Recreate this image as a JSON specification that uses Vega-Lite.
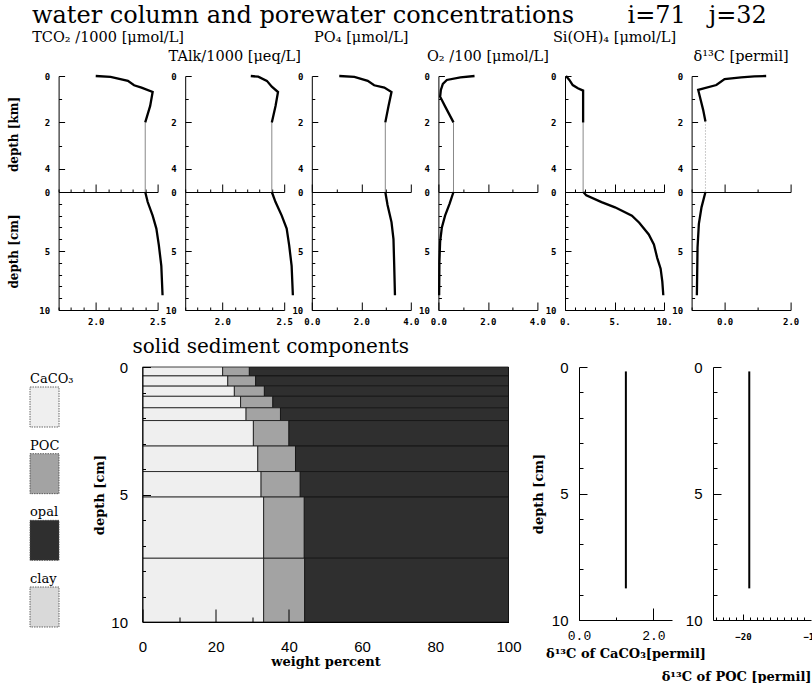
{
"$schema": "https://vega.github.io/schema/vega-lite/v6.json",
"background": "white",
"padding": {"left": 7, "top": 3, "right": 0, "bottom": 0},
"config": {
 "view": {"stroke": null},
 "font": "DejaVu Serif",
 "axis": {"domainColor": "#000", "tickColor": "#000", "labelColor": "#000", "titleColor": "#000", "grid": false, "labelFont": "DejaVu Sans Mono", "labelFontWeight": "bold", "labelFontSize": 9, "titleFont": "DejaVu Serif", "titleFontWeight": "bold", "titleFontSize": 12, "labelFlush": false, "labelOverlap": false, "domainWidth": 1, "tickWidth": 1, "labelAngle": 0},
 "title": {"font": "DejaVu Serif", "fontWeight": "normal", "color": "#000", "fontSize": 14.5, "frame": "group"}
},
"datasets": {
 "prof": [
  {"v":"TCO2","z":"km","s":"a","d":0,"x":2.0},{"v":"TCO2","z":"km","s":"a","d":0.04,"x":2.12},{"v":"TCO2","z":"km","s":"a","d":0.21,"x":2.26},{"v":"TCO2","z":"km","s":"a","d":0.4,"x":2.31},{"v":"TCO2","z":"km","s":"a","d":0.5,"x":2.37},{"v":"TCO2","z":"km","s":"a","d":0.69,"x":2.46},{"v":"TCO2","z":"km","s":"a","d":1.29,"x":2.44},{"v":"TCO2","z":"km","s":"a","d":2.0,"x":2.40},
  {"v":"TCO2","z":"km","s":"b","d":2.0,"x":2.40},{"v":"TCO2","z":"km","s":"b","d":5,"x":2.40},
  {"v":"TCO2","z":"cm","s":"a","d":0,"x":2.40},{"v":"TCO2","z":"cm","s":"a","d":0.85,"x":2.42},{"v":"TCO2","z":"cm","s":"a","d":2,"x":2.46},{"v":"TCO2","z":"cm","s":"a","d":3.1,"x":2.49},{"v":"TCO2","z":"cm","s":"a","d":4.5,"x":2.51},{"v":"TCO2","z":"cm","s":"a","d":6.25,"x":2.53},{"v":"TCO2","z":"cm","s":"a","d":8.75,"x":2.54},
  {"v":"TAlk","z":"km","s":"a","d":0,"x":2.23},{"v":"TAlk","z":"km","s":"a","d":0.03,"x":2.29},{"v":"TAlk","z":"km","s":"a","d":0.21,"x":2.36},{"v":"TAlk","z":"km","s":"a","d":0.46,"x":2.40},{"v":"TAlk","z":"km","s":"a","d":0.69,"x":2.45},{"v":"TAlk","z":"km","s":"a","d":1.29,"x":2.43},{"v":"TAlk","z":"km","s":"a","d":2.0,"x":2.40},
  {"v":"TAlk","z":"km","s":"b","d":2.0,"x":2.40},{"v":"TAlk","z":"km","s":"b","d":5,"x":2.40},
  {"v":"TAlk","z":"cm","s":"a","d":0,"x":2.40},{"v":"TAlk","z":"cm","s":"a","d":0.85,"x":2.43},{"v":"TAlk","z":"cm","s":"a","d":2,"x":2.48},{"v":"TAlk","z":"cm","s":"a","d":3.1,"x":2.52},{"v":"TAlk","z":"cm","s":"a","d":4.5,"x":2.54},{"v":"TAlk","z":"cm","s":"a","d":6.25,"x":2.56},{"v":"TAlk","z":"cm","s":"a","d":8.75,"x":2.57},
  {"v":"PO4","z":"km","s":"a","d":0,"x":1.11},{"v":"PO4","z":"km","s":"a","d":0.04,"x":1.72},{"v":"PO4","z":"km","s":"a","d":0.21,"x":2.26},{"v":"PO4","z":"km","s":"a","d":0.4,"x":2.52},{"v":"PO4","z":"km","s":"a","d":0.5,"x":2.93},{"v":"PO4","z":"km","s":"a","d":0.69,"x":3.22},{"v":"PO4","z":"km","s":"a","d":1.29,"x":3.10},{"v":"PO4","z":"km","s":"a","d":2.0,"x":2.97},
  {"v":"PO4","z":"km","s":"b","d":2.0,"x":2.97},{"v":"PO4","z":"km","s":"b","d":5,"x":2.97},
  {"v":"PO4","z":"cm","s":"a","d":0,"x":2.97},{"v":"PO4","z":"cm","s":"a","d":1.1,"x":3.06},{"v":"PO4","z":"cm","s":"a","d":2.55,"x":3.22},{"v":"PO4","z":"cm","s":"a","d":4,"x":3.30},{"v":"PO4","z":"cm","s":"a","d":6.25,"x":3.33},{"v":"PO4","z":"cm","s":"a","d":8.75,"x":3.36},
  {"v":"O2","z":"km","s":"a","d":0,"x":1.46},{"v":"O2","z":"km","s":"a","d":0.06,"x":0.89},{"v":"O2","z":"km","s":"a","d":0.17,"x":0.34},{"v":"O2","z":"km","s":"a","d":0.34,"x":0.18},{"v":"O2","z":"km","s":"a","d":0.6,"x":0.10},{"v":"O2","z":"km","s":"a","d":0.89,"x":0.07},{"v":"O2","z":"km","s":"a","d":1.31,"x":0.27},{"v":"O2","z":"km","s":"a","d":2.0,"x":0.61},
  {"v":"O2","z":"km","s":"b","d":2.0,"x":0.61},{"v":"O2","z":"km","s":"b","d":5,"x":0.61},
  {"v":"O2","z":"cm","s":"a","d":0,"x":0.61},{"v":"O2","z":"cm","s":"a","d":1,"x":0.45},{"v":"O2","z":"cm","s":"a","d":2,"x":0.27},{"v":"O2","z":"cm","s":"a","d":3,"x":0.14},{"v":"O2","z":"cm","s":"a","d":4.2,"x":0.07},{"v":"O2","z":"cm","s":"a","d":5.9,"x":0.04},{"v":"O2","z":"cm","s":"a","d":8.75,"x":0.03},
  {"v":"Si","z":"km","s":"a","d":0,"x":0.1},{"v":"Si","z":"km","s":"a","d":0.17,"x":0.44},{"v":"Si","z":"km","s":"a","d":0.39,"x":0.78},{"v":"Si","z":"km","s":"a","d":0.53,"x":1.3},{"v":"Si","z":"km","s":"a","d":0.63,"x":1.83},{"v":"Si","z":"km","s":"a","d":2.0,"x":1.83},
  {"v":"Si","z":"km","s":"b","d":2.0,"x":1.83},{"v":"Si","z":"km","s":"b","d":5,"x":1.83},
  {"v":"Si","z":"cm","s":"a","d":0,"x":1.85},{"v":"Si","z":"cm","s":"a","d":0.29,"x":2.15},{"v":"Si","z":"cm","s":"a","d":0.86,"x":3.69},{"v":"Si","z":"cm","s":"a","d":1.3,"x":5.05},{"v":"Si","z":"cm","s":"a","d":2.0,"x":6.76},{"v":"Si","z":"cm","s":"a","d":2.6,"x":7.5},{"v":"Si","z":"cm","s":"a","d":3.6,"x":8.46},{"v":"Si","z":"cm","s":"a","d":4.45,"x":8.98},{"v":"Si","z":"cm","s":"a","d":5.6,"x":9.32},{"v":"Si","z":"cm","s":"a","d":6.5,"x":9.66},{"v":"Si","z":"cm","s":"a","d":7.6,"x":9.83},{"v":"Si","z":"cm","s":"a","d":8.75,"x":9.93},
  {"v":"D13","z":"km","s":"a","d":0,"x":1.26},{"v":"D13","z":"km","s":"a","d":0.02,"x":0.90},{"v":"D13","z":"km","s":"a","d":0.06,"x":0.50},{"v":"D13","z":"km","s":"a","d":0.13,"x":0.0},{"v":"D13","z":"km","s":"a","d":0.39,"x":-0.25},{"v":"D13","z":"km","s":"a","d":0.6,"x":-0.80},{"v":"D13","z":"km","s":"a","d":1.46,"x":-0.65},{"v":"D13","z":"km","s":"a","d":1.96,"x":-0.58},
  {"v":"D13","z":"km","s":"c","d":1.96,"x":-0.58},{"v":"D13","z":"km","s":"c","d":5,"x":-0.58},
  {"v":"D13","z":"cm","s":"a","d":0,"x":-0.58},{"v":"D13","z":"cm","s":"a","d":1.3,"x":-0.70},{"v":"D13","z":"cm","s":"a","d":2.7,"x":-0.78},{"v":"D13","z":"cm","s":"a","d":4.7,"x":-0.82},{"v":"D13","z":"cm","s":"a","d":8.75,"x":-0.84}
 ],
 "sed": [
  {"t":0,"b":0.35,"c":"CaCO₃","k":1,"p":21.9},{"t":0,"b":0.35,"c":"POC","k":2,"p":7.3},{"t":0,"b":0.35,"c":"opal","k":3,"p":70.8},{"t":0,"b":0.35,"c":"clay","k":4,"p":0},
  {"t":0.35,"b":0.75,"c":"CaCO₃","k":1,"p":23.3},{"t":0.35,"b":0.75,"c":"POC","k":2,"p":7.6},{"t":0.35,"b":0.75,"c":"opal","k":3,"p":69.1},{"t":0.35,"b":0.75,"c":"clay","k":4,"p":0},
  {"t":0.75,"b":1.15,"c":"CaCO₃","k":1,"p":25.1},{"t":0.75,"b":1.15,"c":"POC","k":2,"p":8.2},{"t":0.75,"b":1.15,"c":"opal","k":3,"p":66.7},{"t":0.75,"b":1.15,"c":"clay","k":4,"p":0},
  {"t":1.15,"b":1.6,"c":"CaCO₃","k":1,"p":26.8},{"t":1.15,"b":1.6,"c":"POC","k":2,"p":8.8},{"t":1.15,"b":1.6,"c":"opal","k":3,"p":64.4},{"t":1.15,"b":1.6,"c":"clay","k":4,"p":0},
  {"t":1.6,"b":2.1,"c":"CaCO₃","k":1,"p":28.3},{"t":1.6,"b":2.1,"c":"POC","k":2,"p":9.4},{"t":1.6,"b":2.1,"c":"opal","k":3,"p":62.3},{"t":1.6,"b":2.1,"c":"clay","k":4,"p":0},
  {"t":2.1,"b":3.1,"c":"CaCO₃","k":1,"p":30.3},{"t":2.1,"b":3.1,"c":"POC","k":2,"p":9.7},{"t":2.1,"b":3.1,"c":"opal","k":3,"p":60.0},{"t":2.1,"b":3.1,"c":"clay","k":4,"p":0},
  {"t":3.1,"b":4.1,"c":"CaCO₃","k":1,"p":31.5},{"t":3.1,"b":4.1,"c":"POC","k":2,"p":10.3},{"t":3.1,"b":4.1,"c":"opal","k":3,"p":58.2},{"t":3.1,"b":4.1,"c":"clay","k":4,"p":0},
  {"t":4.1,"b":5.1,"c":"CaCO₃","k":1,"p":32.4},{"t":4.1,"b":5.1,"c":"POC","k":2,"p":10.7},{"t":4.1,"b":5.1,"c":"opal","k":3,"p":56.9},{"t":4.1,"b":5.1,"c":"clay","k":4,"p":0},
  {"t":5.1,"b":7.5,"c":"CaCO₃","k":1,"p":33.1},{"t":5.1,"b":7.5,"c":"POC","k":2,"p":11.1},{"t":5.1,"b":7.5,"c":"opal","k":3,"p":55.8},{"t":5.1,"b":7.5,"c":"clay","k":4,"p":0},
  {"t":7.5,"b":10,"c":"CaCO₃","k":1,"p":33.1},{"t":7.5,"b":10,"c":"POC","k":2,"p":11.2},{"t":7.5,"b":10,"c":"opal","k":3,"p":55.7},{"t":7.5,"b":10,"c":"clay","k":4,"p":0}
 ],
 "iso": [
  {"d":0.175,"a":1.26,"p":-19.07},{"d":0.55,"a":1.26,"p":-19.07},{"d":0.95,"a":1.26,"p":-19.07},{"d":1.375,"a":1.26,"p":-19.07},{"d":1.85,"a":1.26,"p":-19.07},{"d":2.6,"a":1.26,"p":-19.07},{"d":3.6,"a":1.26,"p":-19.07},{"d":4.6,"a":1.26,"p":-19.07},{"d":6.3,"a":1.26,"p":-19.07},{"d":8.75,"a":1.26,"p":-19.07}
 ],
 "leg": [{"c":"CaCO₃"},{"c":"POC"},{"c":"opal"},{"c":"clay"}]
},
"title": {"text": "water column and porewater concentrations\u00a0\u00a0\u00a0\u00a0\u00a0\u00a0\u00a0i=71\u00a0\u00a0\u00a0j=32", "anchor": "start", "frame": "group", "dx": 2, "fontSize": 24, "offset": 2},
"spacing": 6,
"vconcat": [
 {"bounds": "flush", "align": "each", "columns": 7, "spacing": {"row": 0, "column": 27.6},
  "concat": [
   {"width": 0.5, "height": 116, "data": {"values": []}, "mark": "point"},
   {"width":99,"height":116,"title":{"text":"TCO₂ /1000 [μmol/L]","offset":26},"data":{"name":"prof"},"transform":[{"filter":"datum.v=='TCO2' && datum.z=='km'"}],
    "encoding":{"x":{"field":"x","type":"quantitative","scale":{"domain":[1.7,2.5],"nice":false,"zero":false},"axis":{"values":[1.7,1.8,1.9,2.0,2.1,2.2,2.3,2.4,2.5],"labels":false,"title":null,"tickSize":{"condition":{"test":"abs(datum.value*2-round(datum.value*2))<0.01","value":-8},"value":-3}}},
     "y":{"field":"d","type":"quantitative","scale":{"domain":[0,5],"reverse":true,"nice":false,"zero":false},"axis":{"values":[0,1,2,3,4],"labelExpr":"datum.value%2==0 ? datum.label : ''","tickSize":{"condition":{"test":"datum.value%2==0","value":-6},"value":-3},"labelPadding":15,"title":"depth [km]","titlePadding":16,"minExtent":22,"maxExtent":22}},
     "order":{"field":"d"}},
    "layer":[{"transform":[{"filter":"datum.s=='b'"}],"mark":{"type":"line","color":"#888","strokeWidth":1},"encoding":{}},{"transform":[{"filter":"datum.s=='a'"}],"mark":{"type":"line","color":"#000","strokeWidth":2.3},"encoding":{}}]},
   {"width":99,"height":116,"title":{"text":"TAlk/1000 [μeq/L]","offset":7},"data":{"name":"prof"},"transform":[{"filter":"datum.v=='TAlk' && datum.z=='km'"}],
    "encoding":{"x":{"field":"x","type":"quantitative","scale":{"domain":[1.7,2.5],"nice":false,"zero":false},"axis":{"values":[1.7,1.8,1.9,2.0,2.1,2.2,2.3,2.4,2.5],"labels":false,"title":null,"tickSize":{"condition":{"test":"abs(datum.value*2-round(datum.value*2))<0.01","value":-8},"value":-3}}},
     "y":{"field":"d","type":"quantitative","scale":{"domain":[0,5],"reverse":true,"nice":false,"zero":false},"axis":{"values":[0,1,2,3,4],"labelExpr":"datum.value%2==0 ? datum.label : ''","tickSize":{"condition":{"test":"datum.value%2==0","value":-6},"value":-3},"labelPadding":15,"title":null}},
     "order":{"field":"d"}},
    "layer":[{"transform":[{"filter":"datum.s=='b'"}],"mark":{"type":"line","color":"#888","strokeWidth":1},"encoding":{}},{"transform":[{"filter":"datum.s=='a'"}],"mark":{"type":"line","color":"#000","strokeWidth":2.3},"encoding":{}}]},
   {"width":99,"height":116,"title":{"text":"PO₄ [μmol/L]","offset":26},"data":{"name":"prof"},"transform":[{"filter":"datum.v=='PO4' && datum.z=='km'"}],
    "encoding":{"x":{"field":"x","type":"quantitative","scale":{"domain":[0,4],"nice":false,"zero":false},"axis":{"values":[0,1,2,3,4],"labels":false,"title":null,"tickSize":{"condition":{"test":"datum.value%2==0","value":-8},"value":-3}}},
     "y":{"field":"d","type":"quantitative","scale":{"domain":[0,5],"reverse":true,"nice":false,"zero":false},"axis":{"values":[0,1,2,3,4],"labelExpr":"datum.value%2==0 ? datum.label : ''","tickSize":{"condition":{"test":"datum.value%2==0","value":-6},"value":-3},"labelPadding":15,"title":null}},
     "order":{"field":"d"}},
    "layer":[{"transform":[{"filter":"datum.s=='b'"}],"mark":{"type":"line","color":"#888","strokeWidth":1},"encoding":{}},{"transform":[{"filter":"datum.s=='a'"}],"mark":{"type":"line","color":"#000","strokeWidth":2.3},"encoding":{}}]},
   {"width":99,"height":116,"title":{"text":"O₂ /100 [μmol/L]","offset":7},"data":{"name":"prof"},"transform":[{"filter":"datum.v=='O2' && datum.z=='km'"}],
    "encoding":{"x":{"field":"x","type":"quantitative","scale":{"domain":[0,4],"nice":false,"zero":false},"axis":{"values":[0,1,2,3,4],"labels":false,"title":null,"tickSize":{"condition":{"test":"datum.value%2==0","value":-8},"value":-3}}},
     "y":{"field":"d","type":"quantitative","scale":{"domain":[0,5],"reverse":true,"nice":false,"zero":false},"axis":{"values":[0,1,2,3,4],"labelExpr":"datum.value%2==0 ? datum.label : ''","tickSize":{"condition":{"test":"datum.value%2==0","value":-6},"value":-3},"labelPadding":15,"title":null}},
     "order":{"field":"d"}},
    "layer":[{"transform":[{"filter":"datum.s=='b'"}],"mark":{"type":"line","color":"#888","strokeWidth":1},"encoding":{}},{"transform":[{"filter":"datum.s=='a'"}],"mark":{"type":"line","color":"#000","strokeWidth":2.3},"encoding":{}}]},
   {"width":99,"height":116,"title":{"text":"Si(OH)₄ [μmol/L]","offset":26},"data":{"name":"prof"},"transform":[{"filter":"datum.v=='Si' && datum.z=='km'"}],
    "encoding":{"x":{"field":"x","type":"quantitative","scale":{"domain":[0,10],"nice":false,"zero":false},"axis":{"values":[0,1,2,3,4,5,6,7,8,9,10],"labels":false,"title":null,"tickSize":{"condition":{"test":"datum.value%5==0","value":-8},"value":-3}}},
     "y":{"field":"d","type":"quantitative","scale":{"domain":[0,5],"reverse":true,"nice":false,"zero":false},"axis":{"values":[0,1,2,3,4],"labelExpr":"datum.value%2==0 ? datum.label : ''","tickSize":{"condition":{"test":"datum.value%2==0","value":-6},"value":-3},"labelPadding":15,"title":null}},
     "order":{"field":"d"}},
    "layer":[{"transform":[{"filter":"datum.s=='b'"}],"mark":{"type":"line","color":"#888","strokeWidth":1},"encoding":{}},{"transform":[{"filter":"datum.s=='a'"}],"mark":{"type":"line","color":"#000","strokeWidth":2.3},"encoding":{}}]},
   {"width":99,"height":116,"title":{"text":"δ¹³C [permil]","offset":7},"data":{"name":"prof"},"transform":[{"filter":"datum.v=='D13' && datum.z=='km'"}],
    "encoding":{"x":{"field":"x","type":"quantitative","scale":{"domain":[-1,2],"nice":false,"zero":false},"axis":{"values":[-1,0,1,2],"labels":false,"title":null,"tickSize":{"condition":{"test":"datum.value==0||datum.value==2","value":-8},"value":-3}}},
     "y":{"field":"d","type":"quantitative","scale":{"domain":[0,5],"reverse":true,"nice":false,"zero":false},"axis":{"values":[0,1,2,3,4],"labelExpr":"datum.value%2==0 ? datum.label : ''","tickSize":{"condition":{"test":"datum.value%2==0","value":-6},"value":-3},"labelPadding":15,"title":null}},
     "order":{"field":"d"}},
    "layer":[{"transform":[{"filter":"datum.s=='c'"}],"mark":{"type":"line","color":"#999","strokeWidth":1,"strokeDash":[1,2]},"encoding":{}},{"transform":[{"filter":"datum.s=='a'"}],"mark":{"type":"line","color":"#000","strokeWidth":2.3},"encoding":{}}]},
   {"width": 0.5, "height": 10, "data": {"values": []}, "mark": "point"},
   {"width":99,"height":118,"data":{"name":"prof"},"transform":[{"filter":"datum.v=='TCO2' && datum.z=='cm'"}],"mark":{"type":"line","color":"#000","strokeWidth":2.3},
    "encoding":{"x":{"field":"x","type":"quantitative","scale":{"domain":[1.7,2.5],"nice":false,"zero":false},"axis":{"values":[1.7,1.8,1.9,2.0,2.1,2.2,2.3,2.4,2.5],"title":null,"labelExpr":"abs(datum.value*2-round(datum.value*2))<0.01 ? format(datum.value,'.1f') : ''","labelPadding":15,"tickSize":{"condition":{"test":"abs(datum.value*2-round(datum.value*2))<0.01","value":-8},"value":-3}}},
     "y":{"field":"d","type":"quantitative","scale":{"domain":[0,10],"reverse":true,"nice":false,"zero":false},"axis":{"values":[0,1,2,3,4,5,6,7,8,9,10],"labelExpr":"datum.value%5==0 ? datum.label : ''","tickSize":{"condition":{"test":"datum.value%5==0","value":-6},"value":-3},"labelPadding":15,"title":"depth [cm]","titlePadding":16,"minExtent":22,"maxExtent":22}},
     "order":{"field":"d"}}},
   {"width":99,"height":118,"data":{"name":"prof"},"transform":[{"filter":"datum.v=='TAlk' && datum.z=='cm'"}],"mark":{"type":"line","color":"#000","strokeWidth":2.3},
    "encoding":{"x":{"field":"x","type":"quantitative","scale":{"domain":[1.7,2.5],"nice":false,"zero":false},"axis":{"values":[1.7,1.8,1.9,2.0,2.1,2.2,2.3,2.4,2.5],"title":null,"labelExpr":"abs(datum.value*2-round(datum.value*2))<0.01 ? format(datum.value,'.1f') : ''","labelPadding":15,"tickSize":{"condition":{"test":"abs(datum.value*2-round(datum.value*2))<0.01","value":-8},"value":-3}}},
     "y":{"field":"d","type":"quantitative","scale":{"domain":[0,10],"reverse":true,"nice":false,"zero":false},"axis":{"values":[0,1,2,3,4,5,6,7,8,9,10],"labelExpr":"datum.value%5==0 ? datum.label : ''","tickSize":{"condition":{"test":"datum.value%5==0","value":-6},"value":-3},"labelPadding":15,"title":null}},
     "order":{"field":"d"}}},
   {"width":99,"height":118,"data":{"name":"prof"},"transform":[{"filter":"datum.v=='PO4' && datum.z=='cm'"}],"mark":{"type":"line","color":"#000","strokeWidth":2.3},
    "encoding":{"x":{"field":"x","type":"quantitative","scale":{"domain":[0,4],"nice":false,"zero":false},"axis":{"values":[0,1,2,3,4],"title":null,"labelExpr":"datum.value%2==0 ? format(datum.value,'.1f') : ''","labelPadding":15,"tickSize":{"condition":{"test":"datum.value%2==0","value":-8},"value":-3}}},
     "y":{"field":"d","type":"quantitative","scale":{"domain":[0,10],"reverse":true,"nice":false,"zero":false},"axis":{"values":[0,1,2,3,4,5,6,7,8,9,10],"labelExpr":"datum.value%5==0 ? datum.label : ''","tickSize":{"condition":{"test":"datum.value%5==0","value":-6},"value":-3},"labelPadding":15,"title":null}},
     "order":{"field":"d"}}},
   {"width":99,"height":118,"data":{"name":"prof"},"transform":[{"filter":"datum.v=='O2' && datum.z=='cm'"}],"mark":{"type":"line","color":"#000","strokeWidth":2.3},
    "encoding":{"x":{"field":"x","type":"quantitative","scale":{"domain":[0,4],"nice":false,"zero":false},"axis":{"values":[0,1,2,3,4],"title":null,"labelExpr":"datum.value%2==0 ? format(datum.value,'.1f') : ''","labelPadding":15,"tickSize":{"condition":{"test":"datum.value%2==0","value":-8},"value":-3}}},
     "y":{"field":"d","type":"quantitative","scale":{"domain":[0,10],"reverse":true,"nice":false,"zero":false},"axis":{"values":[0,1,2,3,4,5,6,7,8,9,10],"labelExpr":"datum.value%5==0 ? datum.label : ''","tickSize":{"condition":{"test":"datum.value%5==0","value":-6},"value":-3},"labelPadding":15,"title":null}},
     "order":{"field":"d"}}},
   {"width":99,"height":118,"data":{"name":"prof"},"transform":[{"filter":"datum.v=='Si' && datum.z=='cm'"}],"mark":{"type":"line","color":"#000","strokeWidth":2.3},
    "encoding":{"x":{"field":"x","type":"quantitative","scale":{"domain":[0,10],"nice":false,"zero":false},"axis":{"values":[0,1,2,3,4,5,6,7,8,9,10],"title":null,"labelExpr":"datum.value%5==0 ? datum.value + '.' : ''","labelPadding":15,"tickSize":{"condition":{"test":"datum.value%5==0","value":-8},"value":-3}}},
     "y":{"field":"d","type":"quantitative","scale":{"domain":[0,10],"reverse":true,"nice":false,"zero":false},"axis":{"values":[0,1,2,3,4,5,6,7,8,9,10],"labelExpr":"datum.value%5==0 ? datum.label : ''","tickSize":{"condition":{"test":"datum.value%5==0","value":-6},"value":-3},"labelPadding":15,"title":null}},
     "order":{"field":"d"}}},
   {"width":99,"height":118,"data":{"name":"prof"},"transform":[{"filter":"datum.v=='D13' && datum.z=='cm'"}],"mark":{"type":"line","color":"#000","strokeWidth":2.3},
    "encoding":{"x":{"field":"x","type":"quantitative","scale":{"domain":[-1,2],"nice":false,"zero":false},"axis":{"values":[-1,0,1,2],"title":null,"labelExpr":"datum.value==0||datum.value==2 ? format(datum.value,'.1f') : ''","labelPadding":15,"tickSize":{"condition":{"test":"datum.value==0||datum.value==2","value":-8},"value":-3}}},
     "y":{"field":"d","type":"quantitative","scale":{"domain":[0,10],"reverse":true,"nice":false,"zero":false},"axis":{"values":[0,1,2,3,4,5,6,7,8,9,10],"labelExpr":"datum.value%5==0 ? datum.label : ''","tickSize":{"condition":{"test":"datum.value%5==0","value":-6},"value":-3},"labelPadding":15,"title":null}},
     "order":{"field":"d"}}}
  ]
 },
 {"spacing": 10,
  "hconcat": [
   {"spacing": 19.5,
    "hconcat": [
     {"width": 29, "height": 260, "data": {"name": "leg"},
      "encoding": {"y": {"field": "c", "type": "nominal", "sort": null, "scale": {"type": "band", "paddingInner": 0.4, "paddingOuter": 0.15, "align": 1}, "axis": null}},
      "layer": [
       {"mark": {"type": "bar", "stroke": "#444", "strokeWidth": 0.8, "strokeDash": [1.5, 1]},
        "encoding": {"fill": {"field": "c", "type": "nominal", "scale": {"domain": ["CaCO₃", "POC", "opal", "clay"], "range": ["#efefef", "#a3a3a3", "#2f2f2f", "#d9d9d9"]}, "legend": null}}},
       {"mark": {"type": "text", "align": "left", "baseline": "bottom", "dx": -14.5, "dy": -1, "font": "DejaVu Serif", "fontSize": 13, "color": "#000"},
        "encoding": {"text": {"field": "c"}, "y": {"field": "c", "type": "nominal", "sort": null, "bandPosition": 0}}}
      ]},
     {"width": 366, "height": 255, "data": {"name": "sed"},
      "title": {"text": "solid sediment components", "anchor": "start", "frame": "group", "dx": -10, "fontSize": 20, "offset": 3},
      "transform": [{"stack": "p", "groupby": ["t"], "sort": [{"field": "k"}], "as": ["p0", "p1"]}],
      "mark": {"type": "rect", "stroke": "#111", "strokeWidth": 0.8},
      "encoding": {
       "x": {"field": "p0", "type": "quantitative", "scale": {"domain": [0, 100], "nice": false}, "axis": {"values": [0,10,20,30,40,50,60,70,80,90,100], "labelExpr": "datum.value%20==0 ? datum.label : ''", "tickSize": {"condition": {"test": "datum.value%20==0", "value": -13}, "value": -5}, "tickOpacity": {"condition": {"test": "datum.value>45", "value": 0}, "value": 1}, "labelPadding": 30, "labelFont": "Liberation Sans", "labelFontWeight": "normal", "labelFontSize": 15, "title": "weight percent", "titlePadding": -7, "titleFontSize": 13, "zindex": 1}},
       "x2": {"field": "p1"},
       "y": {"field": "t", "type": "quantitative", "scale": {"domain": [0, 10], "reverse": true, "nice": false, "zero": false}, "axis": {"values": [0,1,2,3,4,5,6,7,8,9,10], "labelExpr": "datum.value%5==0 ? datum.label : ''", "tickSize": {"condition": {"test": "datum.value%5==0", "value": -8}, "value": -3}, "labelPadding": 23, "labelFont": "Liberation Sans", "labelFontWeight": "normal", "labelFontSize": 15, "title": "depth [cm]", "titlePadding": 4, "titleFontSize": 13, "zindex": 1}},
       "y2": {"field": "b"},
       "fill": {"field": "c", "type": "nominal", "scale": {"domain": ["CaCO₃", "POC", "opal", "clay"], "range": ["#efefef", "#a3a3a3", "#2f2f2f", "#d9d9d9"]}, "legend": null}
      }}
    ]},
   {"bounds": "flush", "spacing": 41,
    "hconcat": [
     {"width": 93, "height": 253, "data": {"name": "iso"},
      "mark": {"type": "line", "color": "#000", "strokeWidth": 2},
      "encoding": {
       "x": {"field": "a", "type": "quantitative", "scale": {"domain": [0, 2.5], "nice": false, "zero": false}, "axis": {"values": [0,1,2], "labelExpr": "datum.value%2==0 ? format(datum.value,'.1f') : ''", "tickSize": {"condition": {"test": "datum.value%2==0", "value": -12}, "value": -3}, "labelPadding": 21, "labelFont": "Liberation Mono", "labelFontWeight": "normal", "labelFontSize": 13, "title": "δ¹³C of CaCO₃[permil]", "titlePadding": -4, "titleFontSize": 13}},
       "y": {"field": "d", "type": "quantitative", "scale": {"domain": [0, 10], "reverse": true, "nice": false, "zero": false}, "axis": {"values": [0,1,2,3,4,5,6,7,8,9,10], "labelExpr": "datum.value%5==0 ? datum.label : ''", "tickSize": {"condition": {"test": "datum.value%5==0", "value": -8}, "value": -4}, "labelPadding": 19, "labelFont": "Liberation Sans", "labelFontWeight": "normal", "labelFontSize": 15, "title": "depth [cm]", "titlePadding": 6, "titleFontSize": 13}},
       "order": {"field": "d"}
      }},
     {"width": 98, "height": 253, "data": {"name": "iso"},
      "mark": {"type": "line", "color": "#000", "strokeWidth": 2},
      "encoding": {
       "x": {"field": "p", "type": "quantitative", "scale": {"domain": [-24.4, -10], "nice": false, "zero": false}, "axis": {"values": [-24,-23,-22,-21,-20,-19,-18,-17,-16,-15,-14,-13,-12,-11,-10], "labelExpr": "datum.value%10==0 ? datum.label : ''", "tickSize": {"condition": {"test": "datum.value%10==0", "value": -6}, "value": -3}, "tickOpacity": {"condition": {"test": "datum.value==-10", "value": 0}, "value": 1}, "labelPadding": 18, "title": "δ¹³C of POC [permil]", "titleAnchor": "end", "titleAlign": "right", "titlePadding": 26, "titleFontSize": 13}},
       "y": {"field": "d", "type": "quantitative", "scale": {"domain": [0, 10], "reverse": true, "nice": false, "zero": false}, "axis": {"values": [0,1,2,3,4,5,6,7,8,9,10], "labelExpr": "datum.value%5==0 ? datum.label : ''", "tickSize": {"condition": {"test": "datum.value%5==0", "value": -8}, "value": -4}, "labelPadding": 19, "labelFont": "Liberation Sans", "labelFontWeight": "normal", "labelFontSize": 15, "title": null}},
       "order": {"field": "d"}
      }}
    ]}
  ]}
]
}
